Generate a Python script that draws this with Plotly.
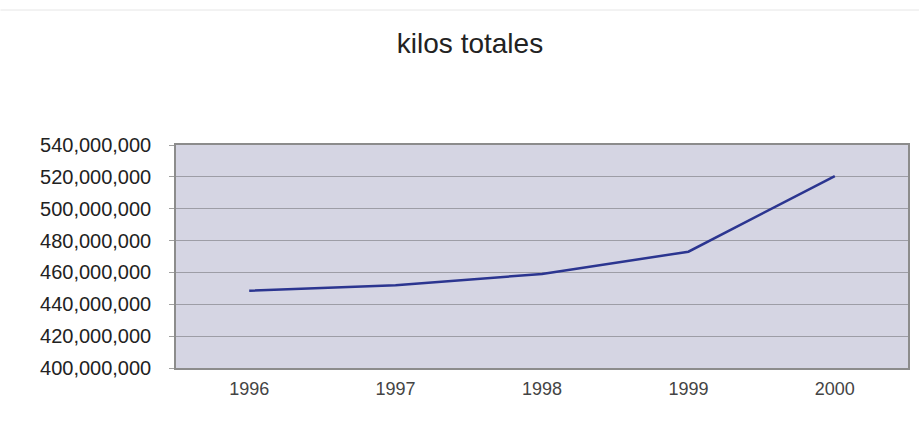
import plotly.graph_objects as go

# Total kilos per year
years = ["1996", "1997", "1998", "1999", "2000"]
kilos = [448_500_000, 452_000_000, 459_000_000, 473_000_000, 520_500_000]

y_ticks = [400_000_000, 420_000_000, 440_000_000, 460_000_000,
           480_000_000, 500_000_000, 520_000_000, 540_000_000]

fig = go.Figure()
fig.add_trace(go.Scatter(
    x=years, y=kilos, mode="lines",
    line=dict(color="#2b3590", width=2.5),
    showlegend=False,
))

fig.update_layout(
    width=921, height=429,
    margin=dict(l=176, r=11, t=145, b=61),
    paper_bgcolor="white",
    plot_bgcolor="#d5d5e3",
    title=dict(
        text="kilos totales",
        x=470 / 921, xref="container", xanchor="center",
        y=1 - 43 / 429, yref="container", yanchor="middle",
        font=dict(family="Liberation Sans, Arial", size=28, color="#222222"),
    ),
    xaxis=dict(
        type="category",
        range=[-0.5, 4.5],
        showgrid=False,
        showline=True, linecolor="#8c8c8c", linewidth=1.5, mirror=True,
        ticks="", tickfont=dict(family="Liberation Sans, Arial", size=18, color="#444444"),
        ticklabelstandoff=4,
    ),
    yaxis=dict(
        range=[400_000_000, 540_000_000],
        tickvals=y_ticks,
        tickformat=",",
        showgrid=True, gridcolor="#9d9da6", gridwidth=1,
        showline=True, linecolor="#8c8c8c", linewidth=1.5, mirror=True,
        zeroline=False,
        ticks="outside", ticklen=5, tickcolor="#a0a0a0",
        ticklabelstandoff=14,
        tickfont=dict(family="Liberation Sans, Arial", size=20, color="#222222"),
    ),
    shapes=[
        dict(type="line", xref="paper", yref="paper",
             x0=-176 / 734, x1=1.0 + 11 / 734, y0=1 + 135 / 223, y1=1 + 135 / 223,
             line=dict(color="#e6e6e6", width=1)),
    ],
)

fig.write_html("out.html")
